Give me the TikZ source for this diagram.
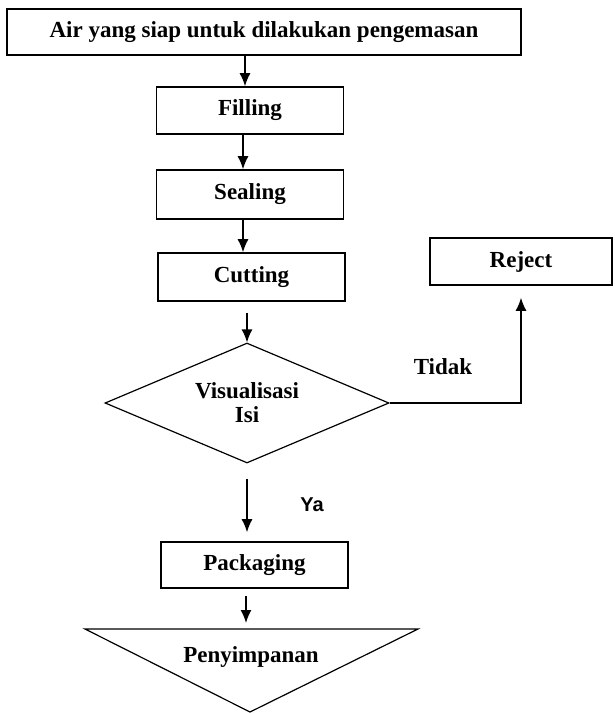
\documentclass[tikz,border=0pt]{standalone}
\usepackage{fontspec}
\setmainfont{Liberation Serif}
\newfontfamily\labelsans{Liberation Sans}
\usetikzlibrary{shapes.geometric,arrows.meta}
\begin{document}
\begin{tikzpicture}[x=1pt, y=-1pt, >={Latex[length=13pt,width=11pt]},
    kotak/.style={draw, line width=1.6pt, minimum width=187pt, minimum height=47pt, inner sep=0pt},
    teks/.style={font=\fontsize{23}{24}\selectfont\bfseries},
    panah/.style={->, line width=1.4pt}]
    \useasboundingbox (0,0) rectangle (614,714);

    % Kotak proses
    \node[kotak, teks, minimum width=514pt, minimum height=46pt] (air) at (264,32) {Air yang siap untuk dilakukan pengemasan};
    \node[kotak, teks] (filling) at (250,110.5) {Filling};
    \node[kotak, teks, minimum height=49pt] (sealing) at (250,194.5) {Sealing};
    \node[kotak, teks, minimum height=48pt] (cutting) at (251.5,277) {Cutting};
    \node[kotak, teks, minimum width=182pt] (reject) at (521,261.5) {Reject};
    \node[kotak, teks, minimum height=46pt] (packaging) at (254.5,565) {Packaging};

    % Keputusan
    \node[draw, diamond, aspect=2.37, minimum width=284pt, minimum height=120pt, inner sep=0pt,
        line width=1.2pt, teks, align=center] (visual) at (247,403) {Visualisasi\\Isi};

    % Penyimpanan (segitiga terbalik)
    \draw[line width=1.2pt] (85,629) -- (418,629) -- (250,712) -- cycle;
    \coordinate (simpanatas) at (246,629);
    \node[teks] (simpan) at (251,657) {Penyimpanan};

    % Label cabang
    \node[teks] (tidak) at (443,367) {Tidak};
    \node[font=\labelsans\fontsize{20}{21}\selectfont\bfseries] (ya) at (312,505) {Ya};

    % Panah alur
    \draw[panah] ([xshift=-5pt]air.south -| filling.north) -- ([xshift=-5pt]filling.north);
    \draw[panah] ([xshift=-7pt]filling.south) -- ([xshift=-7pt]sealing.north);
    \draw[panah] ([xshift=-7pt]sealing.south) -- ([xshift=-7pt]sealing.south |- cutting.north);
    \draw[panah] ([yshift=-11pt]cutting.south -| visual.north) -- (visual.north);
    \draw[panah] (visual.east) -| ([yshift=-12pt]reject.south);
    \draw[panah] ([yshift=-15pt]visual.south) -- ([yshift=9pt]visual.south |- packaging.north);
    \draw[panah] ([yshift=-7pt]packaging.south -| simpanatas) -- ([yshift=6pt]simpanatas);
\end{tikzpicture}
\end{document}
